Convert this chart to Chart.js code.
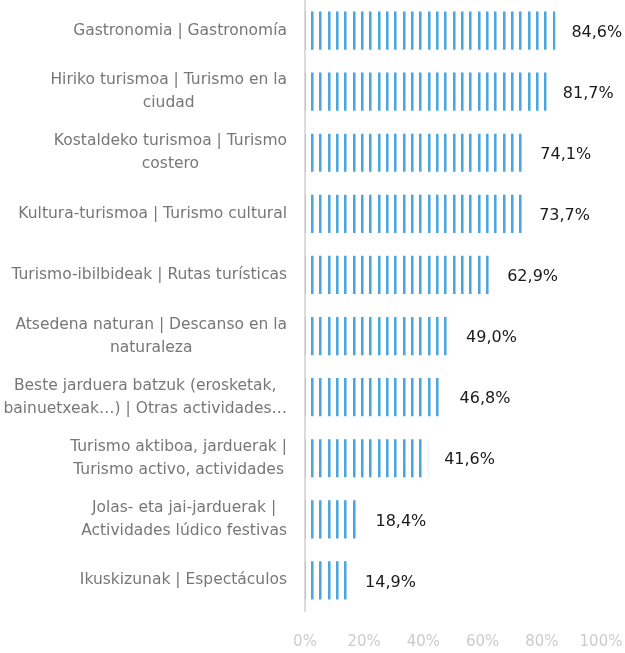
<!DOCTYPE html>
<html>
<head>
<meta charset="utf-8">
<script src="https://cdn.jsdelivr.net/npm/chart.js@4"></script>
<style>
html,body{margin:0;padding:0;background:#fff;}
#wrap{width:625px;height:653px;position:relative;}
</style>
</head>
<body>
<div id="wrap"><canvas id="c" width="625" height="653"></canvas></div>
<script>
const categories = [
  ["Gastronomia | Gastronomía"],
  ["Hiriko turismoa | Turismo en la", "ciudad"],
  ["Kostaldeko turismoa | Turismo", "costero"],
  ["Kultura-turismoa | Turismo cultural"],
  ["Turismo-ibilbideak | Rutas turísticas"],
  ["Atsedena naturan | Descanso en la", "naturaleza"],
  ["Beste jarduera batzuk (erosketak,", "bainuetxeak…) | Otras actividades…"],
  ["Turismo aktiboa, jarduerak |", "Turismo activo, actividades"],
  ["Jolas- eta jai-jarduerak |", "Actividades lúdico festivas"],
  ["Ikuskizunak | Espectáculos"]
];
const values = [84.6, 81.7, 74.1, 73.7, 62.9, 49.0, 46.8, 41.6, 18.4, 14.9];
const tickValues = [0, 20, 40, 60, 80, 100];

const FONT = "'DejaVu Sans', sans-serif";
const BLUE = '#4ba6dc';
const BLUE_EDGE = '#9ccdec';

let patternCache = null;
function stripePattern(ctx, left) {
  if (patternCache && patternCache.left === left) return patternCache.p;
  const pc = document.createElement('canvas');
  pc.width = 25; pc.height = 4;
  const g = pc.getContext('2d');
  const base = Math.round(left) + 6;
  [0, 8, 17].forEach(x => {
    const px = ((base + x) % 25 + 25) % 25;
    g.fillStyle = BLUE;
    g.fillRect(px, 0, 2, 4);
    g.fillStyle = BLUE_EDGE;
    g.fillRect((px + 2) % 25, 0, 1, 4);
  });
  const p = ctx.createPattern(pc, 'repeat');
  patternCache = {left, p};
  return p;
}

const yLabelPlugin = {
  id: 'yLabels',
  afterDraw(chart) {
    const ctx = chart.ctx;
    const ys = chart.scales.y;
    const right = chart.chartArea.left - 18;
    const lh = 23;
    ctx.save();
    ctx.font = '15.5px ' + FONT;
    ctx.fillStyle = '#777777';
    ctx.textAlign = 'center';
    ctx.textBaseline = 'middle';
    categories.forEach((lines, i) => {
      const cy = ys.getPixelForTick(i);
      const maxW = Math.max(...lines.map(l => ctx.measureText(l).width));
      const cx = right - maxW / 2;
      const top = cy - (lines.length - 1) * lh / 2;
      lines.forEach((l, j) => ctx.fillText(l, cx, top + j * lh));
    });
    ctx.restore();
  }
};

const valueLabelPlugin = {
  id: 'valueLabels',
  afterDatasetsDraw(chart) {
    const ctx = chart.ctx;
    const meta = chart.getDatasetMeta(0);
    ctx.save();
    ctx.font = '16px ' + FONT;
    ctx.fillStyle = '#1a1a1a';
    ctx.textAlign = 'left';
    ctx.textBaseline = 'middle';
    meta.data.forEach((bar, i) => {
      const txt = values[i].toFixed(1).replace('.', ',') + '%';
      ctx.fillText(txt, bar.x + 16, bar.y + 2);
    });
    ctx.restore();
  }
};

new Chart(document.getElementById('c'), {
  type: 'bar',
  data: {
    labels: categories,
    datasets: [{
      data: values,
      backgroundColor: (c) => {
        const ca = c.chart.chartArea;
        if (!ca) return BLUE;
        return stripePattern(c.chart.ctx, ca.left);
      },
      borderWidth: 0,
      categoryPercentage: 1,
      barPercentage: 0.625
    }]
  },
  options: {
    indexAxis: 'y',
    responsive: false,
    animation: false,
    layout: { padding: { left: 0, right: 0, top: 0, bottom: 0 } },
    plugins: { legend: { display: false }, tooltip: { enabled: false } },
    scales: {
      x: {
        min: 0, max: 100,
        afterBuildTicks(s) { s.ticks = tickValues.map(v => ({ value: v })); },
        afterFit(s) { s.height = 42; s.paddingRight = 24; s.paddingLeft = 0; },
        grid: { display: false, drawTicks: false },
        border: { display: false },
        ticks: {
          padding: 22,
          color: '#cccccc',
          font: { family: FONT, size: 15 },
          callback: (v) => v + '%'
        }
      },
      y: {
        z: 1,
        afterFit(s) { s.width = 305; },
        grid: { display: false, drawTicks: false },
        border: { display: true, color: '#dcdcdc', width: 2 },
        ticks: { display: false }
      }
    }
  },
  plugins: [yLabelPlugin, valueLabelPlugin]
});
</script>
</body>
</html>
